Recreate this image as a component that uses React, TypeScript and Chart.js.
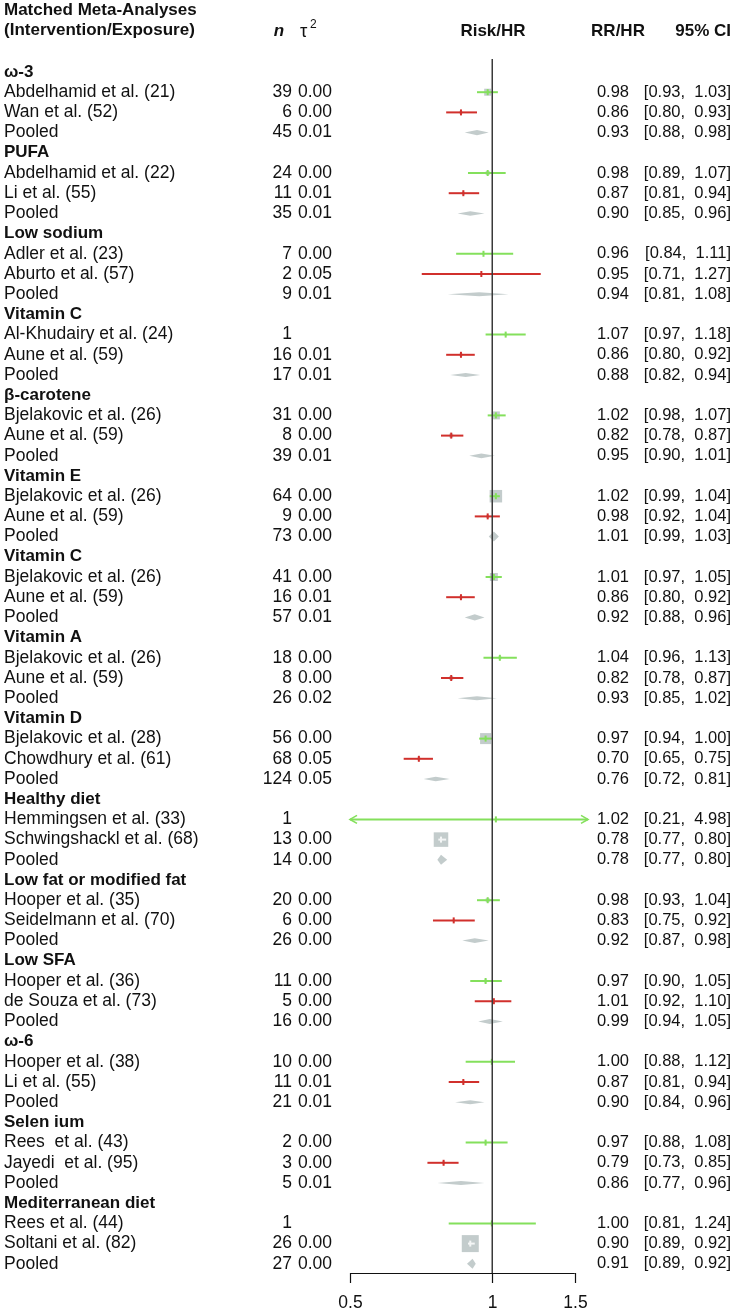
import React, { useEffect, useRef } from 'react';
import { Chart, registerables } from 'chart.js';

Chart.register(...registerables);

// ---------------- data ----------------
const groupLabels = [
  'ω-3', 'PUFA', 'Low sodium', 'Vitamin C', 'β-carotene', 'Vitamin E', 'Vitamin C',
  'Vitamin A', 'Vitamin D', 'Healthy diet', 'Low fat or modified fat', 'Low SFA',
  'ω-6', 'Selen ium', 'Mediterranean diet',
];

const studyNames = [
  'Abdelhamid et al. (21)', 'Wan et al. (52)',
  'Abdelhamid et al. (22)', 'Li et al. (55)',
  'Adler et al. (23)', 'Aburto et al. (57)',
  'Al-Khudairy et al. (24)', 'Aune et al. (59)',
  'Bjelakovic et al. (26)', 'Aune et al. (59)',
  'Bjelakovic et al. (26)', 'Aune et al. (59)',
  'Bjelakovic et al. (26)', 'Aune et al. (59)',
  'Bjelakovic et al. (26)', 'Aune et al. (59)',
  'Bjelakovic et al. (28)', 'Chowdhury et al. (61)',
  'Hemmingsen et al. (33)', 'Schwingshackl et al. (68)',
  'Hooper et al. (35)', 'Seidelmann et al. (70)',
  'Hooper et al. (36)', 'de Souza et al. (73)',
  'Hooper et al. (38)', 'Li et al. (55)',
  'Rees  et al. (43)', 'Jayedi  et al. (95)',
  'Rees et al. (44)', 'Soltani et al. (82)',
];
const studyN = [39, 6, 24, 11, 7, 2, 1, 16, 31, 8, 64, 9, 41, 16, 18, 8, 56, 68, 1, 13, 20, 6, 11, 5, 10, 11, 2, 3, 1, 26];
const studyTau = ['0.00', '0.00', '0.00', '0.01', '0.00', '0.05', '', '0.01', '0.00', '0.00', '0.00', '0.00', '0.00', '0.01', '0.00', '0.00', '0.00', '0.05', '', '0.00', '0.00', '0.00', '0.00', '0.00', '0.00', '0.01', '0.00', '0.00', '', '0.00'];
const studyRR = [0.98, 0.86, 0.98, 0.87, 0.96, 0.95, 1.07, 0.86, 1.02, 0.82, 1.02, 0.98, 1.01, 0.86, 1.04, 0.82, 0.97, 0.70, 1.02, 0.78, 0.98, 0.83, 0.97, 1.01, 1.00, 0.87, 0.97, 0.79, 1.00, 0.90];
const studyLo = [0.93, 0.80, 0.89, 0.81, 0.84, 0.71, 0.97, 0.80, 0.98, 0.78, 0.99, 0.92, 0.97, 0.80, 0.96, 0.78, 0.94, 0.65, 0.21, 0.77, 0.93, 0.75, 0.90, 0.92, 0.88, 0.81, 0.88, 0.73, 0.81, 0.89];
const studyHi = [1.03, 0.93, 1.07, 0.94, 1.11, 1.27, 1.18, 0.92, 1.07, 0.87, 1.04, 1.04, 1.05, 0.92, 1.13, 0.87, 1.00, 0.75, 4.98, 0.80, 1.04, 0.92, 1.05, 1.10, 1.12, 0.94, 1.08, 0.85, 1.24, 0.92];
// 'RCT' = intervention meta-analysis, 'OBS' = exposure (observational) meta-analysis
const studyDesign = ['RCT', 'OBS', 'RCT', 'OBS', 'RCT', 'OBS', 'RCT', 'OBS', 'RCT', 'OBS', 'RCT', 'OBS', 'RCT', 'OBS', 'RCT', 'OBS', 'RCT', 'OBS', 'RCT', 'OBS', 'RCT', 'OBS', 'RCT', 'OBS', 'RCT', 'OBS', 'RCT', 'OBS', 'RCT', 'OBS'];
// relative precision weights (largest = 1)
const studyWeight = [0.17, 0.03, 0.055, 0.03, 0.014, 0.014, 0.014, 0.03, 0.22, 0.055, 0.54, 0.03, 0.22, 0.03, 0.03, 0.055, 0.42, 0.03, 0.0035, 0.73, 0.055, 0.014, 0.03, 0.014, 0.0035, 0.03, 0.014, 0.03, 0, 1];

const pooledN = [45, 35, 9, 17, 39, 73, 57, 26, 124, 14, 26, 16, 21, 5, 27];
const pooledTau = ['0.01', '0.01', '0.01', '0.01', '0.01', '0.00', '0.01', '0.02', '0.05', '0.00', '0.00', '0.00', '0.01', '0.01', '0.00'];
const pooledRR = [0.93, 0.90, 0.94, 0.88, 0.95, 1.01, 0.92, 0.93, 0.76, 0.78, 0.92, 0.99, 0.90, 0.86, 0.91];
const pooledLo = [0.88, 0.85, 0.81, 0.82, 0.90, 0.99, 0.88, 0.85, 0.72, 0.77, 0.87, 0.94, 0.84, 0.77, 0.89];
const pooledHi = [0.98, 0.96, 1.08, 0.94, 1.01, 1.03, 0.96, 1.02, 0.81, 0.80, 0.98, 1.05, 0.96, 0.96, 0.92];

const xTicks = [0.5, 1, 1.5];
const xTickLabels = ['0.5', '1', '1.5'];

// ---------------- layout / style ----------------
const W = 734;
const H = 1311;
const ROW0 = 72;
const ROWH = 20.2;
const Y_MIN = -ROW0 / ROWH;
const Y_MAX = Y_MIN + H / ROWH;
const X_MIN = 0.5;
const X_MAX = 1.6;
const FONT = '"Liberation Sans", Arial, Helvetica, sans-serif';
const FS = 17.5;
const FS_BOLD = 17;
const FS_RIGHT = 16.5;
const GREEN = '#84e05c';
const RED = '#d1302c';
const GREY = '#c3cccc';
const MAX_SQ = 17;

const studyRow = (i: number) => 4 * Math.floor(i / 2) + 1 + (i % 2);
const pooledRow = (g: number) => 4 * g + 3;
const headerRow = (g: number) => 4 * g;
const squareSide = (i: number) => MAX_SQ * Math.sqrt(studyWeight[i]);

function markColor(chart: any, i: number) {
  const xs = chart.scales.x;
  const ciPx = xs.getPixelForValue(Math.min(studyHi[i], X_MAX)) - xs.getPixelForValue(Math.max(studyLo[i], X_MIN));
  if (squareSide(i) > 1.3 * ciPx) return '#f4f6f6';
  return studyDesign[i] === 'RCT' ? GREEN : RED;
}

const forestPlugin = {
  id: 'forest',
  beforeDatasetsDraw(chart: any) {
    const { ctx } = chart;
    const xs = chart.scales.x;
    const ys = chart.scales.y;
    ctx.save();
    ctx.fillStyle = GREY;
    for (let g = 0; g < pooledRR.length; g++) {
      const y = ys.getPixelForValue(pooledRow(g));
      const xl = xs.getPixelForValue(pooledLo[g]);
      const xr = xs.getPixelForValue(pooledHi[g]);
      const xm = xs.getPixelForValue(pooledRR[g]);
      const w = Math.log(pooledHi[g] / pooledLo[g]);
      const h = Math.max(4, Math.min(10, 0.55 / w)) / 2;
      ctx.beginPath();
      ctx.moveTo(xl - 1, y);
      ctx.lineTo(xm, y - h);
      ctx.lineTo(xr + 1, y);
      ctx.lineTo(xm, y + h);
      ctx.closePath();
      ctx.fill();
    }
    ctx.restore();
  },
  beforeDatasetDraw(chart: any, args: any) {
    if (args.index !== 1) return;
    const { ctx } = chart;
    const xs = chart.scales.x;
    const ys = chart.scales.y;
    ctx.save();
    for (let i = 0; i < studyRR.length; i++) {
      const y = ys.getPixelForValue(studyRow(i));
      const lo = Math.max(studyLo[i], X_MIN);
      const hi = Math.min(studyHi[i], X_MAX);
      const xl = xs.getPixelForValue(lo);
      const xr = xs.getPixelForValue(hi);
      const col = markColor(chart, i);
      ctx.strokeStyle = col;
      ctx.lineWidth = 2;
      ctx.beginPath();
      ctx.moveTo(xl, y);
      ctx.lineTo(xr, y);
      ctx.stroke();
      ctx.lineWidth = 1.6;
      if (studyLo[i] < X_MIN) {
        ctx.beginPath();
        ctx.moveTo(xl + 7, y - 4);
        ctx.lineTo(xl, y);
        ctx.lineTo(xl + 7, y + 4);
        ctx.stroke();
      }
      if (studyHi[i] > X_MAX) {
        ctx.beginPath();
        ctx.moveTo(xr - 7, y - 4);
        ctx.lineTo(xr, y);
        ctx.lineTo(xr - 7, y + 4);
        ctx.stroke();
      }
    }
    ctx.restore();
  },
  afterDatasetsDraw(chart: any) {
    const { ctx } = chart;
    const xs = chart.scales.x;
    const axisY = 1273;
    ctx.save();
    // reference line at 1
    ctx.strokeStyle = '#3a3a3a';
    ctx.lineWidth = 1.5;
    const x1 = Math.round(xs.getPixelForValue(1)) + 0.25;
    ctx.beginPath();
    ctx.moveTo(x1, 59);
    ctx.lineTo(x1, axisY);
    ctx.stroke();
    // x axis
    ctx.strokeStyle = '#111';
    ctx.lineWidth = 1.2;
    ctx.beginPath();
    ctx.moveTo(xs.getPixelForValue(xTicks[0]), axisY + 0.5);
    ctx.lineTo(xs.getPixelForValue(xTicks[xTicks.length - 1]), axisY + 0.5);
    ctx.stroke();
    ctx.fillStyle = '#111';
    ctx.font = `${FS}px ${FONT}`;
    ctx.textAlign = 'center';
    ctx.textBaseline = 'middle';
    xTicks.forEach((t, k) => {
      const x = Math.round(xs.getPixelForValue(t)) + 0.5;
      ctx.beginPath();
      ctx.moveTo(x, axisY);
      ctx.lineTo(x, axisY + 10);
      ctx.stroke();
      ctx.fillText(xTickLabels[k], x, 1303);
    });
    ctx.restore();
  },
  afterDraw(chart: any) {
    const { ctx } = chart;
    const ys = chart.scales.y;
    ctx.save();
    ctx.fillStyle = '#111';
    ctx.textBaseline = 'middle';
    const bold = `bold ${FS_BOLD}px ${FONT}`;
    const reg = `${FS}px ${FONT}`;
    const regR = `${FS_RIGHT}px ${FONT}`;
    // headers
    ctx.font = bold;
    ctx.textAlign = 'left';
    ctx.fillText('Matched Meta-Analyses', 4, 10);
    ctx.fillText('(Intervention/Exposure)', 4, 30);
    ctx.textAlign = 'center';
    ctx.font = `italic bold ${FS_BOLD}px ${FONT}`;
    ctx.fillText('n', 279, 31);
    ctx.font = `${FS + 1}px ${FONT}`;
    ctx.textAlign = 'left';
    ctx.fillText('τ', 300, 32);
    ctx.font = `${12}px ${FONT}`;
    ctx.fillText('2', 310, 25);
    ctx.font = bold;
    ctx.textAlign = 'center';
    ctx.fillText('Risk/HR', 493, 31);
    ctx.fillText('RR/HR', 618, 31);
    ctx.textAlign = 'right';
    ctx.fillText('95% CI', 731, 31);

    const rightCols = (y: number, rr: number, lo: number, hi: number) => {
      ctx.font = regR;
      ctx.textAlign = 'right';
      ctx.fillText(rr.toFixed(2), 629, y);
      ctx.fillText(`[${lo.toFixed(2)},  ${hi.toFixed(2)}]`, 731, y);
    };

    for (let g = 0; g < groupLabels.length; g++) {
      const yh = ys.getPixelForValue(headerRow(g));
      ctx.font = bold;
      ctx.textAlign = 'left';
      ctx.fillText(groupLabels[g], 4, yh);
      for (let k = 0; k < 2; k++) {
        const i = 2 * g + k;
        const y = ys.getPixelForValue(studyRow(i));
        ctx.font = reg;
        ctx.textAlign = 'left';
        ctx.fillText(studyNames[i], 4, y);
        ctx.textAlign = 'right';
        ctx.fillText(String(studyN[i]), 292, y);
        ctx.textAlign = 'left';
        if (studyTau[i]) ctx.fillText(studyTau[i], 298, y);
        rightCols(y, studyRR[i], studyLo[i], studyHi[i]);
      }
      const yp = ys.getPixelForValue(pooledRow(g));
      ctx.font = reg;
      ctx.textAlign = 'left';
      ctx.fillText('Pooled', 4, yp);
      ctx.textAlign = 'right';
      ctx.fillText(String(pooledN[g]), 292, yp);
      ctx.textAlign = 'left';
      ctx.fillText(pooledTau[g], 298, yp);
      rightCols(yp, pooledRR[g], pooledLo[g], pooledHi[g]);
    }
    ctx.restore();
  },
};

export default function App() {
  const ref = useRef<HTMLCanvasElement | null>(null);
  useEffect(() => {
    if (!ref.current) return;
    const idx = studyRR.map((_, i) => i);
    const chart = new Chart(ref.current, {
      type: 'scatter',
      data: {
        datasets: [
          {
            label: 'weights',
            data: idx.map((i) => ({ x: studyRR[i], y: studyRow(i) })),
            pointStyle: 'rect',
            pointRadius: idx.map((i) => squareSide(i) / Math.SQRT2),
            backgroundColor: GREY,
            borderWidth: 0,
            order: 2,
          },
          {
            label: 'estimates',
            data: idx.map((i) => ({ x: studyRR[i], y: studyRow(i) })),
            pointStyle: 'line',
            rotation: 90,
            pointRadius: 3,
            borderWidth: 2,
            borderColor: (c: any) => markColor(c.chart, c.dataIndex),
            order: 1,
          },
        ],
      },
      options: {
        responsive: false,
        animation: false,
        events: [],
        devicePixelRatio: 1,
        layout: { autoPadding: false, padding: { left: 350, right: W - 588, top: 0, bottom: 0 } },
        scales: {
          x: { type: 'logarithmic', min: X_MIN, max: X_MAX, display: false },
          y: { type: 'linear', min: Y_MIN, max: Y_MAX, reverse: true, display: false },
        },
        plugins: { legend: { display: false }, tooltip: { enabled: false } },
      },
      plugins: [forestPlugin],
    } as any);
    return () => chart.destroy();
  }, []);
  return (
    <div style={{ position: 'absolute', left: 0, top: 0, width: W, height: H, background: '#fff' }}>
      <canvas ref={ref} width={W} height={H} style={{ display: 'block' }} />
    </div>
  );
}
